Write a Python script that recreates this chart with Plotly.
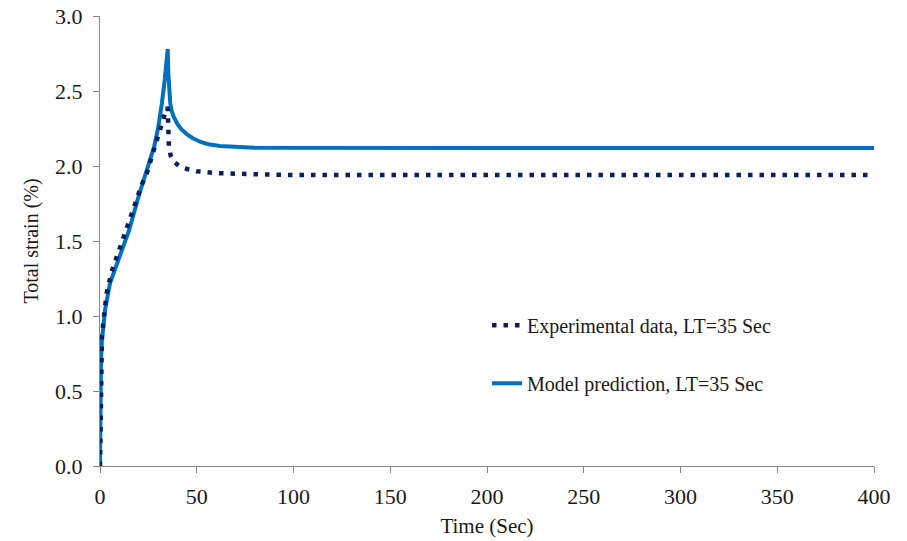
import plotly.graph_objects as go

# Experimental creep/recovery response, loading time LT = 35 s
exp_time = [0, 0.3, 0.6, 1.0, 2.1, 3.4, 6.0, 8.1, 11.5, 15.5, 17.4, 19.8, 21.7,
            24.1, 26.0, 27.7, 29.3, 31.0, 32.7, 34.5, 35.0, 35.3, 35.6, 36.5,
            38.0, 41.0, 45.0, 50.0, 60.0, 80.0, 100.0, 400.0]
exp_strain = [0.0, 0.45, 0.72, 0.86, 1.00, 1.15, 1.295, 1.373, 1.52, 1.66, 1.73,
              1.807, 1.88, 1.947, 2.02, 2.095, 2.17, 2.24, 2.32, 2.39, 2.38, 2.25,
              2.13, 2.07, 2.03, 2.00, 1.98, 1.965, 1.953, 1.945, 1.94, 1.94]

# Model prediction, loading time LT = 35 s
model_time = [0, 0.2, 0.5, 1.0, 2.6, 5.2, 10.3, 15.0, 20.0, 25.0, 28.0, 30.0,
              30.7, 32.0, 33.5, 35.0, 35.3, 35.7, 36.3, 37.0, 38.0, 40.0, 42.0,
              45.0, 48.0, 52.0, 56.0, 62.0, 70.0, 80.0, 400.0]
model_strain = [0.0, 0.45, 0.70, 0.84, 1.04, 1.22, 1.395, 1.57, 1.80, 2.00, 2.13,
                2.25, 2.30, 2.42, 2.58, 2.78, 2.62, 2.50, 2.42, 2.37, 2.33, 2.28,
                2.245, 2.21, 2.185, 2.16, 2.145, 2.133, 2.125, 2.121, 2.12]

x_ticks = [0, 50, 100, 150, 200, 250, 300, 350, 400]
y_ticks = [0.0, 0.5, 1.0, 1.5, 2.0, 2.5, 3.0]

FONT = "Liberation Serif, Times New Roman, serif"
AXIS_GRAY = "#868686"
TEXT = "#1a1a1a"

fig = go.Figure()

fig.add_trace(go.Scatter(
    x=model_time, y=model_strain, mode="lines",
    name="Model prediction, LT=35 Sec",
    line=dict(color="#0070C0", width=4),
    legend="legend2",
))

fig.add_trace(go.Scatter(
    x=exp_time, y=exp_strain, mode="lines",
    name="Experimental data, LT=35 Sec",
    line=dict(color="#0b1f5e", width=4.5, dash="4.5px,7px"),
    legend="legend",
))

axis_common = dict(
    showline=True, linecolor=AXIS_GRAY, linewidth=1.3,
    ticks="outside", ticklen=6, tickcolor=AXIS_GRAY, tickwidth=1.3,
    showgrid=False, zeroline=False, automargin=False,
    tickfont=dict(family=FONT, size=22, color=TEXT),
)

fig.update_layout(
    width=907, height=541,
    margin=dict(l=100, r=33, t=16, b=75),
    paper_bgcolor="white", plot_bgcolor="white",
    font=dict(family=FONT, size=20, color=TEXT),
    xaxis=dict(
        range=[0, 400], tickvals=x_ticks, ticktext=[str(v) for v in x_ticks],
        ticklabelstandoff=4,
        title=dict(text="Time (Sec)", font=dict(family=FONT, size=21, color=TEXT),
                   standoff=10),
        **axis_common,
    ),
    yaxis=dict(
        range=[0, 3.0], tickvals=y_ticks, ticktext=[f"{v:.1f}" for v in y_ticks],
        ticklabelstandoff=6,
        title=dict(text="Total strain (%)", font=dict(family=FONT, size=20, color=TEXT),
                   standoff=10),
        **axis_common,
    ),
    legend=dict(
        x=0.5, y=0.313, xanchor="left", yanchor="middle",
        bgcolor="rgba(0,0,0,0)", font=dict(family=FONT, size=20, color=TEXT),
    ),
    legend2=dict(
        x=0.5, y=0.184, xanchor="left", yanchor="middle",
        bgcolor="rgba(0,0,0,0)", font=dict(family=FONT, size=20, color=TEXT),
    ),
    showlegend=True,
)

fig.write_html("out.html")
